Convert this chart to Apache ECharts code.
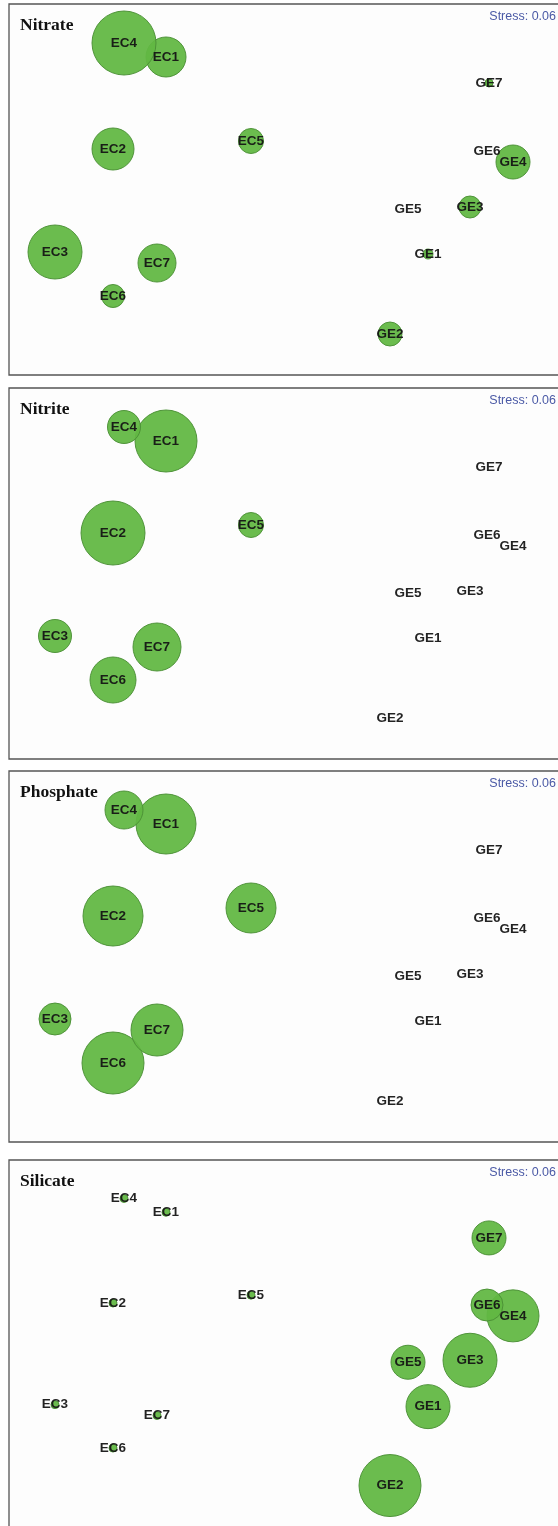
<!DOCTYPE html>
<html>
<head>
<meta charset="utf-8">
<title>nMDS bubble plots – nutrients</title>
<script src="https://cdn.jsdelivr.net/npm/echarts@6/dist/echarts.min.js"></script>
<style>
  html, body { margin: 0; padding: 0; background: #ffffff; }
  #chart { width: 558px; height: 1526px; }
</style>
</head>
<body>
<div id="chart"></div>
<script>
// Sampling sites and their nMDS ordination coordinates (shared by all panels)
const sites = ['EC1', 'EC2', 'EC3', 'EC4', 'EC5', 'EC6', 'EC7',
               'GE1', 'GE2', 'GE3', 'GE4', 'GE5', 'GE6', 'GE7'];
const mdsX = [-1.17, -1.70, -2.28, -1.59, -0.32, -1.70, -1.26,
               1.45,  1.07,  1.87,  2.30,  1.25,  2.04,  2.06];
const mdsY = [ 1.32,  0.40, -0.63,  1.46,  0.48, -1.07, -0.74,
              -0.65, -1.45, -0.18,  0.27, -0.20,  0.38,  1.06];

// Relative nutrient levels shown as bubble size at each site
const nitrate   = [4.0, 4.2, 5.4, 6.4, 2.5, 2.3, 3.8, 1.0, 2.4, 2.2, 3.4, 0, 0, 0.8];
const nitrite   = [6.2, 6.4, 3.3, 3.3, 2.5, 4.6, 4.8, 0, 0, 0, 0, 0, 0, 0];
const phosphate = [6.0, 6.0, 3.2, 3.8, 5.0, 6.2, 5.2, 0, 0, 0, 0, 0, 0, 0];
const silicate  = [0.8, 0.8, 0.8, 0.8, 0.8, 0.8, 0.8, 4.4, 6.2, 5.4, 5.2, 3.4, 3.2, 3.4];

const panelNames = ['Nitrate', 'Nitrite', 'Phosphate', 'Silicate'];
const panelValues = [nitrate, nitrite, phosphate, silicate];
const stressText = 'Stress: 0.06';

// Layout of the four stacked panels (the frame runs past the right edge)
const panelTops = [4, 388, 771, 1160];
const panelHeight = 371;
const panelLeft = 9;
const plotWidth = 549;
const sizeScale = 10; // bubble diameter in px per unit

const grids = [], xAxes = [], yAxes = [], series = [], titles = [], frames = [];

panelNames.forEach((name, i) => {
  grids.push({ left: panelLeft, top: panelTops[i], width: plotWidth, height: panelHeight, show: false });
  xAxes.push({ type: 'value', gridIndex: i, min: -2.74, max: 2.75, show: false });
  yAxes.push({ type: 'value', gridIndex: i, min: -1.86, max: 1.85, show: false });

  frames.push({
    type: 'rect', z: -10, silent: true,
    shape: { x: panelLeft, y: panelTops[i], width: 580, height: panelHeight },
    style: { fill: '#fdfdfd', stroke: '#555555', lineWidth: 1.3 }
  });

  titles.push({
    text: name, left: panelLeft + 11, top: panelTops[i] + 12, padding: 0,
    textStyle: { fontFamily: '"Liberation Serif", "Times New Roman", serif',
                 fontWeight: 'bold', fontSize: 17.5, color: '#111111' }
  });
  titles.push({
    text: stressText, right: 2, top: panelTops[i] + 6, padding: 0,
    textStyle: { fontFamily: '"Liberation Sans", Arial, sans-serif',
                 fontWeight: 'normal', fontSize: 12.5, color: '#4b5aa6' }
  });

  const values = panelValues[i];
  series.push({
    type: 'scatter',
    xAxisIndex: i, yAxisIndex: i,
    data: sites.map((s, k) => ({ name: s, value: [mdsX[k], mdsY[k], values[k]] })),
    symbol: 'circle',
    symbolSize: v => v[2] * sizeScale,
    itemStyle: { color: '#62b843', opacity: 0.94, borderColor: '#4a8f35', borderWidth: 1 },
    label: {
      show: true, position: 'inside', formatter: p => p.name,
      fontFamily: '"Liberation Sans", Arial, sans-serif',
      fontSize: 13.5, fontWeight: 'bold', color: '#141414'
    },
    labelLayout: { hideOverlap: false },
    emphasis: { disabled: true },
    silent: true,
    animation: false
  });
});

const chart = echarts.init(document.getElementById('chart'), null, { renderer: 'canvas' });
chart.setOption({
  animation: false,
  backgroundColor: '#ffffff',
  graphic: frames,
  title: titles,
  grid: grids,
  xAxis: xAxes,
  yAxis: yAxes,
  series: series
});
</script>
</body>
</html>
